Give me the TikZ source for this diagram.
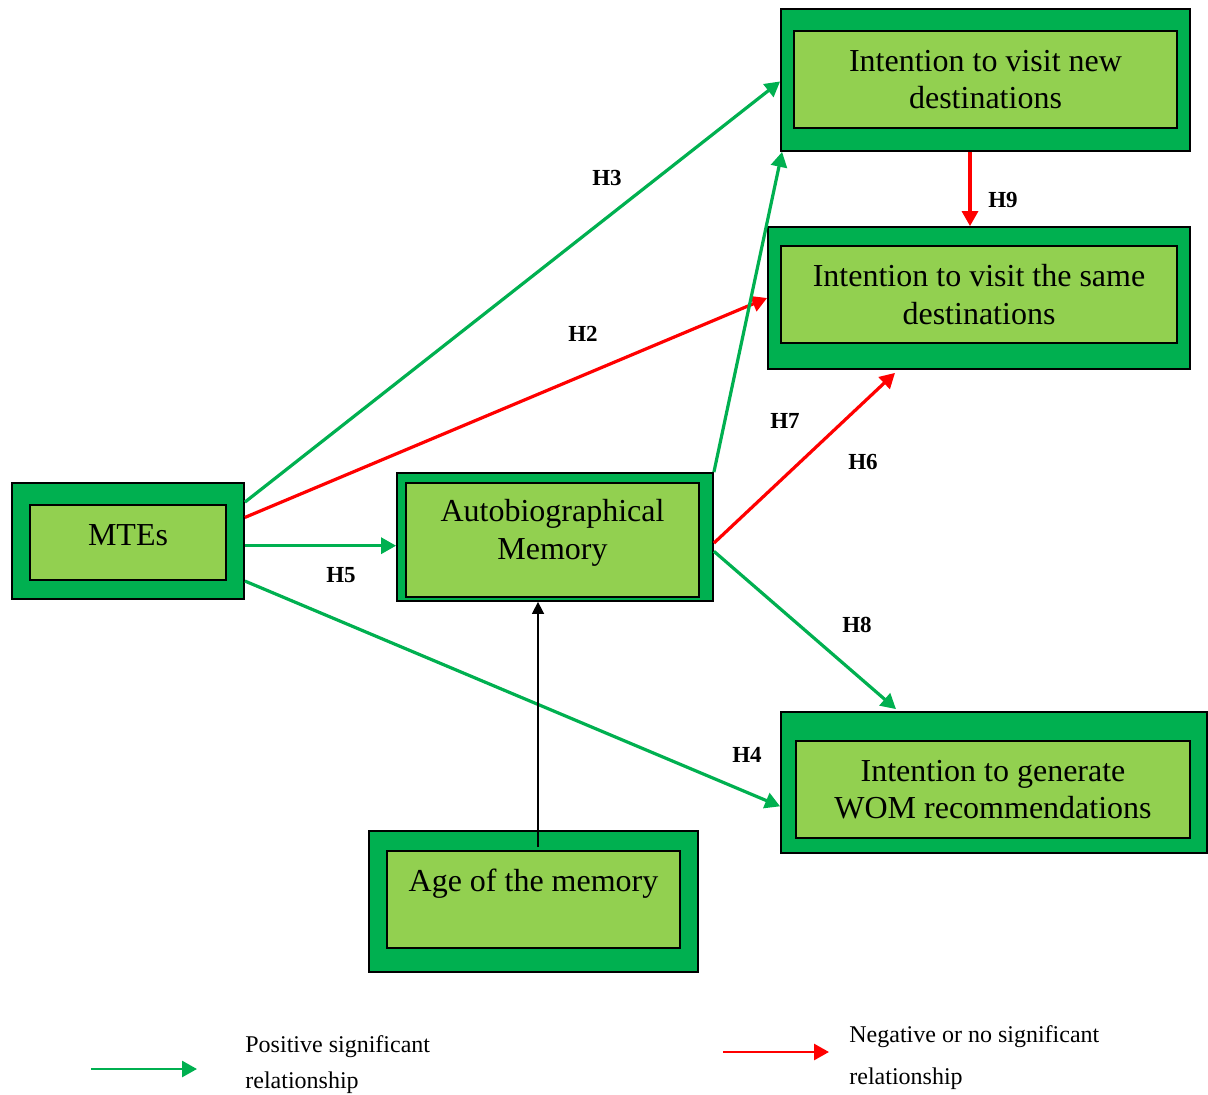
\documentclass[tikz,border=0pt]{standalone}
\usepackage{fontspec}
\setmainfont{Liberation Serif}
\usetikzlibrary{arrows.meta,calc}
\definecolor{darkgrn}{HTML}{00B050}
\definecolor{lightgrn}{HTML}{92D050}
\definecolor{negred}{HTML}{FF0000}
\begin{document}
\begin{tikzpicture}[x=0.5pt,y=-0.5pt,
  outerbox/.style={draw=black, line width=0.9pt, fill=darkgrn, inner sep=0pt},
  innerbox/.style={draw=black, line width=0.9pt, fill=lightgrn, inner sep=0pt},
  boxtext/.style={font=\fontsize{16}{18.75}\selectfont, align=center, inner sep=0pt},
  hlabel/.style={font=\fontsize{11.5}{13}\selectfont\bfseries, inner sep=0pt},
  legendtext/.style={font=\fontsize{12}{14}\selectfont, anchor=base west, inner sep=0pt},
  posarrow/.style={draw=darkgrn, line width=1.6pt, -{Triangle[length=7.5pt,width=8pt]}},
  negarrow/.style={draw=negred, line width=1.6pt, -{Triangle[length=7.5pt,width=8pt]}},
  agearrow/.style={draw=black, line width=0.8pt, -{Triangle[length=6pt,width=6pt]}}]
\useasboundingbox (0,0) rectangle (1208,1095);

% construct boxes: dark outer frame with light inner panel
\node[outerbox, minimum width=204.5pt, minimum height=71pt] (newO) at (985.5,80) {};
\node[innerbox, minimum width=191.5pt, minimum height=48.5pt] (newI) at (985.5,79.5) {};
\node[boxtext] (newT) at (newI.center) {Intention to visit new\\destinations};

\node[outerbox, minimum width=211pt, minimum height=71pt] (sameO) at (979,298) {};
\node[innerbox, minimum width=198pt, minimum height=48.5pt] (sameI) at (979,294.5) {};
\node[boxtext] (sameT) at (sameI.center) {Intention to visit the same\\destinations};

\node[outerbox, minimum width=116pt, minimum height=58pt] (mteO) at (128,541) {};
\node[innerbox, minimum width=98pt, minimum height=37.5pt] (mteI) at (128,542.5) {};
\node[boxtext] (mteT) at ($(mteI.center)+(0,-7.5)$) {MTEs};

\node[outerbox, minimum width=158pt, minimum height=64pt] (amO) at (555,537) {};
\node[innerbox, minimum width=146.5pt, minimum height=57pt] (amI) at (552.5,540) {};
\node[boxtext] (amT) at ($(amI.center)+(0,-7)$) {Autobiographical\\Memory};

\node[outerbox, minimum width=164.5pt, minimum height=70.5pt] (ageO) at (533.5,901.5) {};
\node[innerbox, minimum width=146.5pt, minimum height=48.5pt] (ageI) at (533.5,899.5) {};
\node[boxtext] (ageT) at ($(ageI.center)+(0,-16)$) {Age of the memory};

\node[outerbox, minimum width=213pt, minimum height=70.5pt] (womO) at (994,782.5) {};
\node[innerbox, minimum width=197pt, minimum height=48.5pt] (womI) at (993,789.5) {};
\node[boxtext] (womT) at (womI.center) {Intention to generate\\WOM recommendations};

% hypothesised paths
\draw[posarrow] ($(mteO.north east)!0.17!(mteO.south east)$) -- ($(newO.north west)!0.51!(newO.south west)$);
\draw[negarrow] ($(mteO.north east)!0.30!(mteO.south east)$) -- (sameO.west);
\draw[posarrow] ($(mteO.north east)!0.54!(mteO.south east)$) coordinate (h5s) -- (h5s -| amO.west);
\draw[posarrow] ($(mteO.north east)!0.84!(mteO.south east)$) -- ($(womO.north west)!0.667!(womO.south west)$);
\draw[posarrow] (amO.north east) -- ($(newO.south west)+(2,0)$);
\draw[negarrow] ($(amO.north east)!0.547!(amO.south east)$) -- ($(sameO.south)+(-84,3)$);
\draw[posarrow] ($(amO.north east)!0.61!(amO.south east)$) -- ($(womO.north)+(-98,-2)$);
\draw[negarrow] ($(newO.south)+(-15.5,0)$) coordinate (h9s) -- (h9s |- sameO.north);
\draw[agearrow] ($(ageI.north)+(4.5,-3)$) coordinate (ags) -- (ags |- amO.south);

% path labels
\node[hlabel] (lH3) at (607,178) {H3};
\node[hlabel] (lH2) at (583,334) {H2};
\node[hlabel] (lH7) at (785,421) {H7};
\node[hlabel] (lH6) at (863,462) {H6};
\node[hlabel] (lH5) at (341,575) {H5};
\node[hlabel] (lH8) at (857,625) {H8};
\node[hlabel] (lH4) at (747,755) {H4};
\node[hlabel] (lH9) at (1003,200) {H9};

% legend
\coordinate (lgPs) at (91,1069);
\coordinate (lgPe) at (197,1069);
\draw[posarrow, line width=1.4pt] (lgPs) -- (lgPe);
\node[legendtext] (lgP1) at (245,1052) {Positive significant};
\node[legendtext] (lgP2) at (245,1088) {relationship};

\coordinate (lgNs) at (723,1052);
\coordinate (lgNe) at (829,1052);
\draw[negarrow, line width=1.4pt] (lgNs) -- (lgNe);
\node[legendtext] (lgN1) at (849,1042) {Negative or no significant};
\node[legendtext] (lgN2) at (849,1084) {relationship};
\end{tikzpicture}
\end{document}
